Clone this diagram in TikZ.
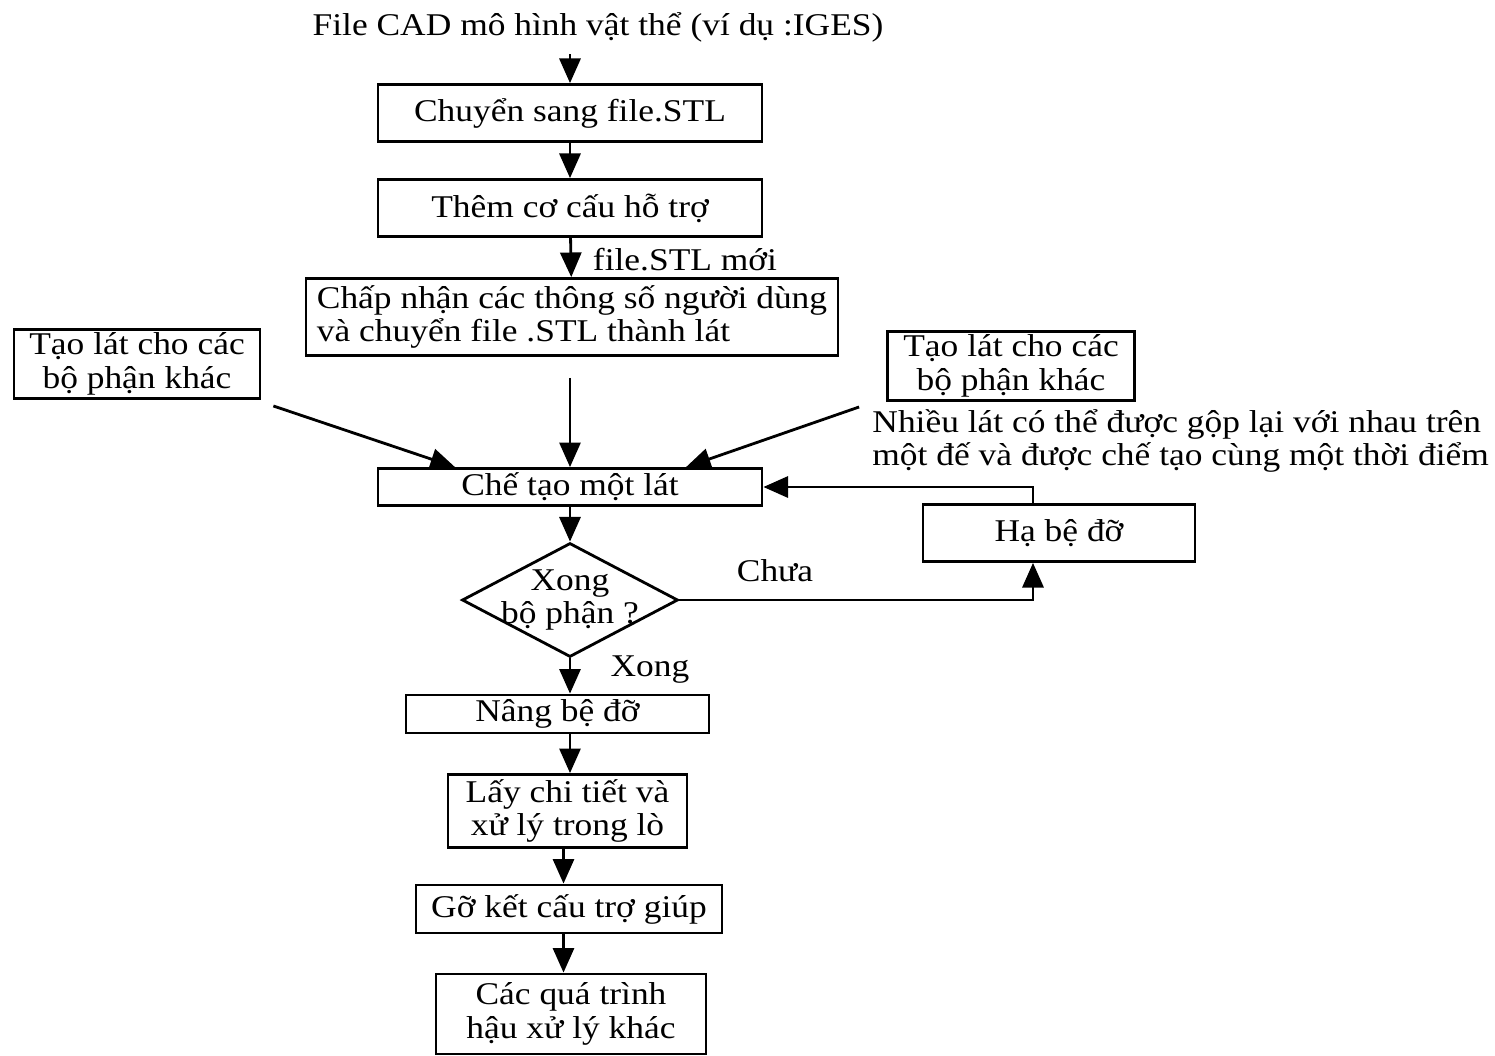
\documentclass[tikz,border=0pt]{standalone}
\usepackage{fontspec}
\setmainfont{Liberation Serif}[FakeStretch=1.12]
\usetikzlibrary{arrows.meta,shapes.geometric,positioning,calc}

\begin{document}
\begin{tikzpicture}[
  font=\fontsize{9}{9.5}\selectfont,
  box/.style={draw, line width=0.8pt, inner sep=1pt},
  decision/.style={draw, diamond, line width=0.8pt, inner sep=0pt, minimum width=2.16cm, minimum height=1.14cm},
  flow/.style={line width=0.8pt, -{Triangle[length=7pt,width=6pt]}}
]
\useasboundingbox (0, 0) rectangle (14.95, 10.55);
\node (cad) at (5.98, 10.28) {File CAD mô hình vật thể (ví dụ :IGES)};
\node[box, minimum width=3.84cm, minimum height=0.57cm] (stl) at (5.70, 9.42) {Chuyển sang file.STL};
\node[box, minimum width=3.84cm, minimum height=0.57cm] (support) at (5.70, 8.47) {Thêm cơ cấu hỗ trợ};
\node (newstl) at (6.85, 7.95) {file.STL mới};
\node[box, minimum width=5.32cm, minimum height=0.77cm, align=left] (accept) at (5.72, 7.38) {Chấp nhận các thông số người dùng\\và chuyển file .STL thành lát};
\node[box, minimum width=2.46cm, minimum height=0.68cm, align=center] (otherl) at (1.37, 6.91) {Tạo lát cho các\\bộ phận khác};
\node[box, minimum width=2.47cm, minimum height=0.67cm, align=center] (otherr) at (10.11, 6.89) {Tạo lát cho các\\bộ phận khác};
\node[anchor=west, align=left] (note) at (8.60, 6.14) {Nhiều lát có thể được gộp lại với nhau trên\\một đế và được chế tạo cùng một thời điểm};
\node[box, minimum width=3.84cm, minimum height=0.37cm] (slice) at (5.70, 5.68) {Chế tạo một lát};
\node[decision] (done) at (5.70, 4.55) {};
\node[align=center] (donetext) at (done.center) {Xong\\bộ phận ?};
\node[box, minimum width=2.72cm, minimum height=0.57cm] (lower) at (10.59, 5.22) {Hạ bệ đỡ};
\node (notyet) at (7.75, 4.84) {Chưa};
\node (yes) at (6.50, 3.85) {Xong};
\node[box, minimum width=3.03cm, minimum height=0.38cm] (raise) at (5.575, 3.41) {Nâng bệ đỡ};
\node[box, minimum width=2.39cm, minimum height=0.73cm, align=center] (take) at (5.675, 2.44) {Lấy chi tiết và\\xử lý trong lò};
\node[box, minimum width=3.06cm, minimum height=0.48cm] (remove) at (5.69, 1.46) {Gỡ kết cấu trợ giúp};
\node[box, minimum width=2.70cm, minimum height=0.80cm, align=center] (post) at (5.71, 0.41) {Các quá trình\\hậu xử lý khác};

\draw[flow] (cad.south -| stl.north) -- (stl.north);
\draw[flow] (stl) -- (support);
\draw[flow] (support) -- (accept);
\draw[flow, shorten <=0.21cm] (accept.south -| slice.north) -- (slice.north);
\draw[flow] ($(otherl.south east)+(0.12,-0.06)$) -- ([xshift=-1.15cm]slice.north);
\draw[flow] ($(otherr.south west)+(-0.27,-0.05)$) -- ([xshift=1.16cm]slice.north);
\draw[flow] (slice) -- (done);
\draw[flow] (done.east) -| ([xshift=-0.26cm]lower.south);
\draw[flow] ([xshift=-0.26cm]lower.north) |- (slice.east);
\draw[flow] (done.south) -- (done.south |- raise.north);
\draw[flow] (raise.south -| done.south) -- (done.south |- take.north);
\draw[flow] ([xshift=-0.04cm]take.south) -- ([xshift=-0.04cm]take.south |- remove.north);
\draw[flow] ([xshift=-0.04cm]take.south |- remove.south) -- ([xshift=-0.04cm]take.south |- post.north);
\end{tikzpicture}
\end{document}
